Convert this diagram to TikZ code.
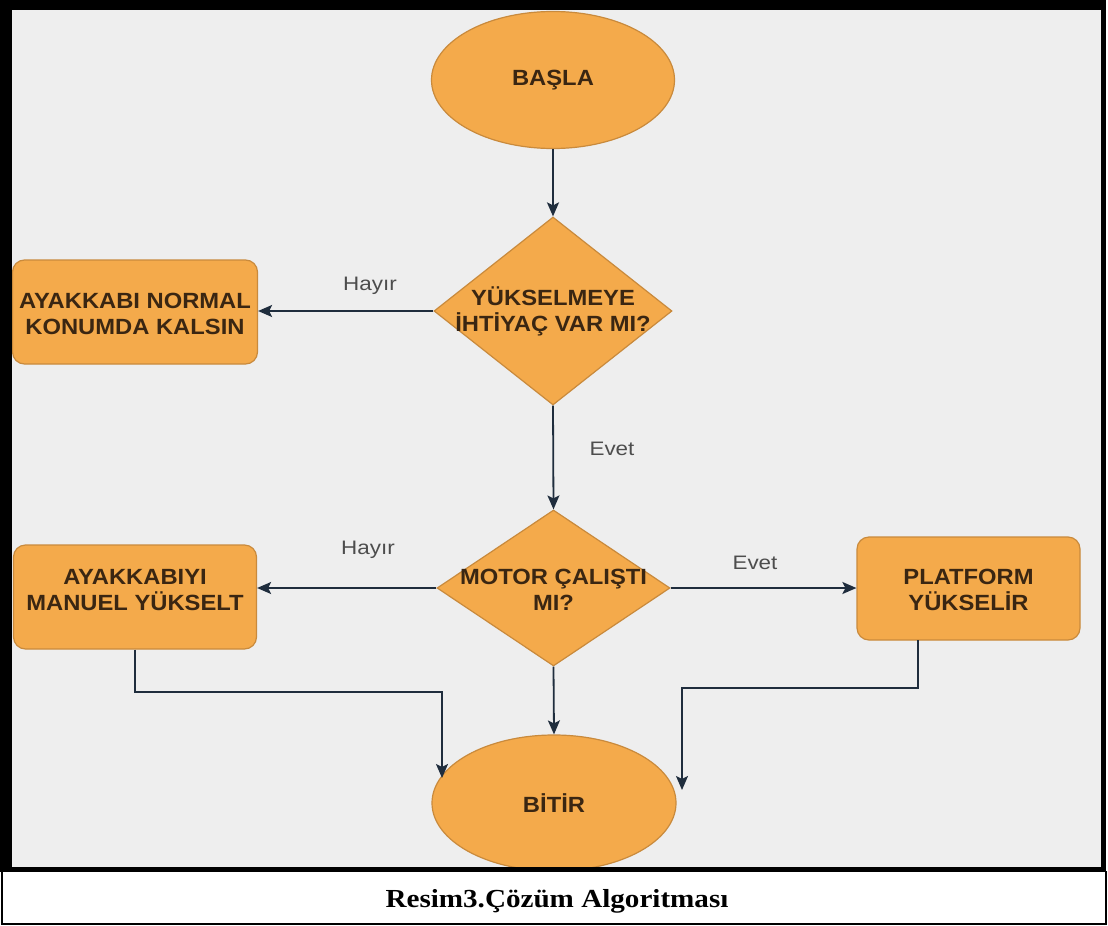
\documentclass[tikz,border=0pt]{standalone}
\usepackage{fontspec}
\setmainfont{Liberation Sans}
\newfontfamily\nodefont[FakeStretch=1.08]{Liberation Sans}
\newfontfamily\labfont[FakeStretch=1.15]{Liberation Sans}
\newfontfamily\capfont[FakeStretch=1.12]{Liberation Serif}
\usetikzlibrary{shapes.geometric,arrows.meta}
\definecolor{bgray}{HTML}{EEEEEE}
\definecolor{orfill}{HTML}{F4AA4B}
\definecolor{ordraw}{HTML}{C98A3C}
\definecolor{txtc}{HTML}{3A2612}
\definecolor{arr}{HTML}{1F2D3D}
\definecolor{labc}{HTML}{4D4D4D}
\begin{document}
\begin{tikzpicture}[x=1pt,y=-1pt,
 shapebase/.style={fill=orfill, draw=ordraw, line width=1.2pt, inner sep=0pt},
 ell/.style={shapebase, ellipse},
 dia/.style={shapebase, diamond},
 box/.style={shapebase, rectangle, rounded corners=12pt},
 ntext/.style={font=\nodefont\bfseries\fontsize{22}{26}\selectfont, text=txtc, align=center, inner sep=0pt},
 lab/.style={font=\labfont\fontsize{19.5}{23}\selectfont, text=labc, inner sep=0pt},
 conn/.style={draw=arr, line width=1.8pt, -{Stealth[length=14pt,width=12pt,inset=3pt]}},
]
\useasboundingbox (0,0) rectangle (1108,926);
% background
\fill[white] (0,0) rectangle (1108,926);
\fill[bgray] (12,10) rectangle (1101,868);

% shapes
\node[ell, minimum width=243pt, minimum height=137pt, ntext] (basla) at (553,80) {BAŞLA};
\node[dia, minimum width=238pt, minimum height=188pt] (d1) at (553,311) {};
\node[ntext] (d1t) at (553,311) {YÜKSELMEYE\\İHTİYAÇ VAR MI?};
\node[box, minimum width=245pt, minimum height=104pt] (b1) at (135,312) {};
\node[ntext] (b1t) at (135,314) {AYAKKABI NORMAL\\KONUMDA KALSIN};
\node[dia, minimum width=233pt, minimum height=156pt] (d2) at (553.5,588) {};
\node[ntext] (d2t) at (553.5,590) {MOTOR ÇALIŞTI\\MI?};
\node[box, minimum width=243pt, minimum height=104pt] (b2) at (135,597) {};
\node[ntext] (b2t) at (135,590) {AYAKKABIYI\\MANUEL YÜKSELT};
\node[box, minimum width=223pt, minimum height=103pt] (b3) at (968.5,588.5) {};
\node[ntext] (b3t) at (968.5,590) {PLATFORM\\YÜKSELİR};
\node[ell, minimum width=244pt, minimum height=136pt, ntext] (bitir) at (554,803) {BİTİR};

% connector helper coordinates
\coordinate (j1) at (442,692);
\coordinate (e1) at (442,778);
\coordinate (s3) at (918,640);
\coordinate (j2) at (682,688);
\coordinate (e2) at (682,790);

% connectors
\draw[conn] (basla.south) -- (d1.north);
\draw[conn] (d1.west) -- (d1.west -| b1.east);
\draw[conn] (d1.south) -- (d2.north);
\draw[conn] (d2.west) -- (d2.west -| b2.east);
\draw[conn] (d2.east) -- (d2.east -| b3.west);
\draw[conn] (d2.south) -- (bitir.north);
\draw[conn] (b2.south) |- (j1) -- (e1);
\draw[conn] (s3) |- (j2) -- (e2);

% labels
\node[lab] (h1) at (370,286) {Hayır};
\node[lab] (ev1) at (612,449) {Evet};
\node[lab] (h2) at (368,550) {Hayır};
\node[lab] (ev2) at (755,563) {Evet};

% frame
\fill[black] (0,0) rectangle (12,871);
\fill[black] (0,0) rectangle (1106,10);
\fill[black] (1101,0) rectangle (1106,871);
\fill[black] (0,867) rectangle (1106,872);
% caption box
\draw[black, line width=2pt] (2,871) -- (2,924) -- (1106,924) -- (1106,871);
\node[font=\capfont\bfseries\fontsize{26}{30}\selectfont, inner sep=0pt] (cap) at (557,901) {Resim3.Çözüm Algoritması};
\end{tikzpicture}
\end{document}
